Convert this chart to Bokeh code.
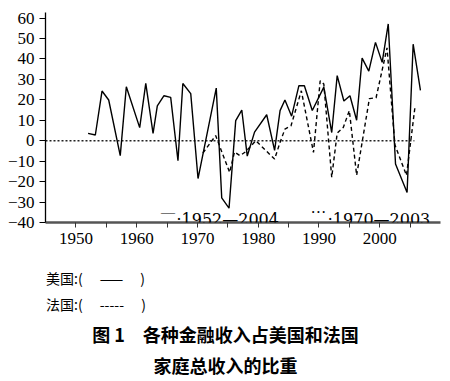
from bokeh.plotting import figure
from bokeh.layouts import column
from bokeh.models import Range1d, FixedTicker, Label
from bokeh.embed import file_html
from bokeh.resources import INLINE

# United States (solid), years as placed on the chart
YEARS_US = [1952.0, 1953.2, 1954.3, 1955.4, 1957.3, 1958.3, 1960.5, 1961.5, 1962.7, 1963.4,
            1964.5, 1965.6, 1966.8, 1967.6, 1968.9, 1970.1, 1973.1, 1974.0, 1975.2, 1976.3,
            1977.3, 1978.2, 1979.4, 1981.4, 1982.7, 1983.6, 1984.4, 1985.5, 1986.7, 1987.6,
            1988.9, 1990.8, 1992.1, 1993.0, 1994.1, 1995.1, 1996.2, 1997.1, 1998.2, 1999.3,
            2000.4, 2001.4, 2002.6, 2004.5, 2005.5, 2006.7]
SHARE_US = [3.6, 2.8, 24.3, 19.9, -7.3, 26.4, 6.4, 28.0, 3.6, 17.0,
            22.0, 21.2, -9.8, 28.0, 23.0, -18.5, 25.7, -28.0, -33.0, 9.8,
            15.0, -7.5, 4.2, 12.7, -4.7, 14.7, 19.9, 12.0, 26.9, 26.9,
            14.8, 26.2, 4.0, 31.8, 19.4, 22.0, 10.0, 40.4, 34.0, 48.1,
            38.3, 57.1, -11.4, -25.3, 47.2, 24.6]

# France (dashed)
YEARS_FR = [1970.9, 1973.0, 1975.3, 1976.1, 1977.0, 1977.9, 1979.6, 1982.7, 1983.6, 1984.4,
            1985.4, 1987.1, 1989.1, 1990.2, 1990.8, 1992.1, 1993.0, 1994.0, 1995.0, 1996.2,
            1998.3, 1999.4, 2001.2, 2002.5, 2004.4, 2005.8]
SHARE_FR = [-6.0, 2.5, -15.5, -5.5, -7.3, -5.5, 0.0, -9.0, -0.8, 5.7,
            7.3, 24.4, -5.7, 29.3, 27.7, -17.9, 3.7, 6.5, 14.7, -16.9,
            20.6, 21.0, 45.4, -2.0, -17.0, 16.5]

X_TICKS = [1950, 1955, 1960, 1965, 1970, 1975, 1980, 1985, 1990, 1995, 2000, 2005]
X_TICK_LABELS = ["1950", "", "1960", "", "1970", "", "1980", "", "1990", "", "2000", ""]
Y_TICKS = [-40, -30, -20, -10, 0, 10, 20, 30, 40, 50, 60]
Y_TICK_LABELS = ["\u221240", "\u221230", "\u221220", "\u221210", "0", "10", "20", "30", "40", "50", "60"]

LEGEND_US = ":1952\u20142004"
LEGEND_FR = ":1970\u20142003"
KEY_US = "\u2014"
KEY_FR = "\u00b7\u00b7\u00b7"
NOTE_US = "美国:(\u3000 \u2014\u2014\u3000 )"
NOTE_FR = "法国:(\u3000 -----\u3000 )"
CAPTION_1 = "图 1\u3000各种金融收入占美国和法国"
CAPTION_2 = "家庭总收入的比重"

X_START, X_END = 1945, 2010
Y_START, Y_END = -40, 62.7
ZERO_END = 2005.7

SERIF = "Liberation Serif, Times New Roman, serif"
SERIF_WIDE = "DejaVu Serif, serif"
CJK = "Noto Sans CJK SC"

p = figure(width=450, height=256, output_backend="svg", toolbar_location=None,
           x_range=Range1d(X_START, X_END), y_range=Range1d(Y_START, Y_END),
           min_border_left=45, min_border_right=10, min_border_top=12, min_border_bottom=34,
           background_fill_color="white", border_fill_color="white")
p.title.visible = False
p.outline_line_color = None
p.xgrid.visible = False
p.ygrid.visible = False

# zero reference line
p.line([X_START, ZERO_END], [0, 0], line_color="#222222", line_width=1.6, line_dash="2 2")

p.line(YEARS_US, SHARE_US, line_color="black", line_width=1.4)
p.line(YEARS_FR, SHARE_FR, line_color="black", line_width=1.4, line_dash="4 3")

xa = p.xaxis[0]
xa.ticker = FixedTicker(ticks=X_TICKS)
xa.major_label_overrides = {t: l for t, l in zip(X_TICKS, X_TICK_LABELS)}
xa.minor_tick_line_color = None
xa.major_tick_in = 0
xa.major_tick_out = 5
xa.major_label_standoff = 5
xa.axis_line_width = 2.5
xa.axis_line_color = "#555555"
xa.major_tick_line_color = "#333333"
xa.major_label_text_font = SERIF
xa.major_label_text_font_size = "17px"
xa.major_label_text_color = "black"

ya = p.yaxis[0]
ya.ticker = FixedTicker(ticks=Y_TICKS)
ya.major_label_overrides = {t: l for t, l in zip(Y_TICKS, Y_TICK_LABELS)}
ya.minor_tick_line_color = None
ya.major_tick_in = 0
ya.major_tick_out = 6
ya.major_label_standoff = 5
ya.axis_line_width = 1.3
ya.axis_line_color = "black"
ya.major_tick_line_color = "black"
ya.major_label_text_font = SERIF
ya.major_label_text_font_size = "17px"
ya.major_label_text_color = "black"


def add_label(fig, x, y, text, font, size, align="left", baseline="alphabetic", style="normal"):
    fig.add_layout(Label(x=x, y=y, text=text, text_font=font, text_font_size=size,
                         text_align=align, text_baseline=baseline, text_font_style=style,
                         text_color="black"))


# in-plot legend
add_label(p, 1964.0, -35.0, KEY_US, SERIF, "14px", baseline="middle")
add_label(p, 1966.5, -38.5, LEGEND_US, SERIF_WIDE, "16px")
add_label(p, 1988.6, -35.0, KEY_FR, SERIF, "16px", baseline="middle")
add_label(p, 1991.4, -38.5, LEGEND_FR, SERIF_WIDE, "16px")

# notes and caption panel below the chart; its frame lines up with the chart's
# frame (page x 45..440), so x is given in page pixels and y downward.
q = figure(width=450, height=125, output_backend="svg", toolbar_location=None,
           x_range=Range1d(45, 440), y_range=Range1d(125, 0),
           min_border_left=0, min_border_right=0, min_border_top=0, min_border_bottom=0,
           x_axis_type=None, y_axis_type=None,
           background_fill_color="white", border_fill_color="white")
q.title.visible = False
q.outline_line_color = None
q.xgrid.visible = False
q.ygrid.visible = False

add_label(q, 45.5, 21, NOTE_US, CJK, "14px", baseline="middle")
add_label(q, 45.5, 47, NOTE_FR, CJK, "14px", baseline="middle")
add_label(q, 225, 77, CAPTION_1, CJK, "18px", align="center", baseline="middle", style="bold")
add_label(q, 225, 108, CAPTION_2, CJK, "18px", align="center", baseline="middle", style="bold")

layout = column(p, q, spacing=0)
open("out.html", "w").write(file_html(layout, INLINE))
